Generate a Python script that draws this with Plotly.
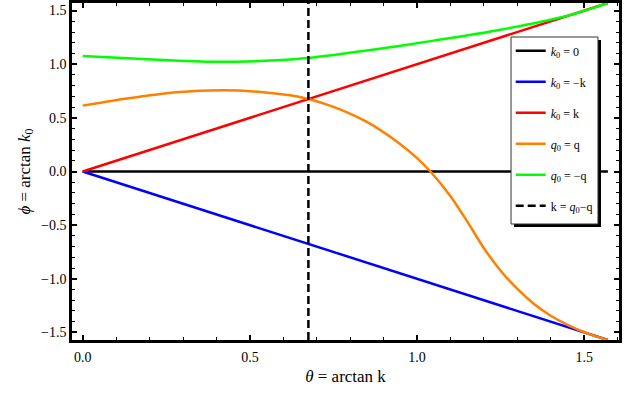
import plotly.graph_objects as go

# values (theta, phi in radians)
half_pi = 1.5708
line_theta = [0.0, half_pi]
phi_zero = [0.0, 0.0]
phi_minus_k = [0.0, -half_pi]
phi_plus_k = [0.0, half_pi]

orange_theta = [0.0, 0.09, 0.18, 0.28, 0.42, 0.54, 0.62, 0.675, 0.75, 0.85, 0.95, 1.00,
                1.04, 1.10, 1.15, 1.20, 1.25, 1.30, 1.35, 1.40, 1.45, 1.51, half_pi]
orange_phi = [0.614, 0.66, 0.701, 0.739, 0.757, 0.739, 0.710, 0.676, 0.603, 0.462, 0.255, 0.125,
              0.0, -0.23, -0.465, -0.715, -0.925, -1.095, -1.235, -1.345, -1.43, -1.51, -half_pi]

green_theta = [0.0, 0.18, 0.38, 0.46, 0.58, 0.675, 0.85, 1.05, 1.25, 1.45, half_pi]
green_phi = [1.077, 1.049, 1.024, 1.024, 1.037, 1.058, 1.127, 1.220, 1.322, 1.452, half_pi]

cut_theta = [0.675, 0.675]
cut_phi = [-half_pi, half_pi]

names = ["<i>k</i><sub>0</sub> = 0", "<i>k</i><sub>0</sub> = −k", "<i>k</i><sub>0</sub> = k",
         "<i>q</i><sub>0</sub> = q", "<i>q</i><sub>0</sub> = −q", "k = <i>q</i><sub>0</sub>−q"]

serif = "Liberation Serif"
fig = go.Figure()
fig.add_trace(go.Scatter(x=line_theta, y=phi_zero, mode="lines", name=names[0], legendgroup="a",
                         line=dict(color="black", width=2.5)))
fig.add_trace(go.Scatter(x=line_theta, y=phi_minus_k, mode="lines", name=names[1], legendgroup="b",
                         line=dict(color="#0000ff", width=2.5)))
fig.add_trace(go.Scatter(x=line_theta, y=phi_plus_k, mode="lines", name=names[2], legendgroup="c",
                         line=dict(color="#ff0000", width=2.5)))
fig.add_trace(go.Scatter(x=orange_theta, y=orange_phi, mode="lines", name=names[3], legendgroup="d",
                         line=dict(color="#ff8000", width=2.5, shape="spline", smoothing=0.9)))
fig.add_trace(go.Scatter(x=green_theta, y=green_phi, mode="lines", name=names[4], legendgroup="e",
                         line=dict(color="#00ff00", width=2.5, shape="spline", smoothing=0.8)))
fig.add_trace(go.Scatter(x=cut_theta, y=cut_phi, mode="lines", name=names[5], legendgroup="f",
                         line=dict(color="black", width=2.5, dash="8px,4px")))

axis_common = dict(showline=True, linewidth=2.5, linecolor="black", mirror="allticks",
                   ticks="inside", ticklen=5, tickwidth=1.5, tickcolor="black",
                   showgrid=False, zeroline=False, dtick=0.5, tickformat=".1f", automargin=False,
                   minor=dict(dtick=0.1, ticks="inside", ticklen=3, tickwidth=1, tickcolor="black"),
                   tickfont=dict(family=serif, size=14, color="black"))

fig.update_layout(
    width=635, height=398,
    margin=dict(l=72, r=16, t=3, b=58),
    plot_bgcolor="white", paper_bgcolor="white",
    font=dict(family=serif, size=14, color="black"),
    xaxis=dict(range=[-0.032, 1.604], tick0=0, ticklabelstandoff=2,
               title=dict(text="<i>θ</i> = arctan k", standoff=7), **axis_common),
    yaxis=dict(range=[-half_pi, half_pi], tick0=0,
               title=dict(text="<i>ϕ</i> = arctan <i>k</i><sub>0</sub>", standoff=7), **axis_common),
    legend=dict(x=0.802, y=0.901, xanchor="left", yanchor="top", bgcolor="rgba(0,0,0,0)",
                borderwidth=0, font=dict(family=serif, size=12),
                tracegroupgap=12, itemwidth=30),
    showlegend=True,
)

# legend frame with its drop shadow
fig.add_shape(type="rect", xref="paper", yref="paper", x0=0.8081, x1=0.9671, y0=0.3353, y1=0.8902,
              fillcolor="black", line=dict(width=0), layer="above")
fig.add_shape(type="rect", xref="paper", yref="paper", x0=0.8026, x1=0.9616, y0=0.3442, y1=0.8991,
              fillcolor="white", line=dict(color="#333333", width=1), layer="above")

fig.write_html("out.html", config={"displayModeBar": False},
               post_script="document.body.style.margin='0';")
